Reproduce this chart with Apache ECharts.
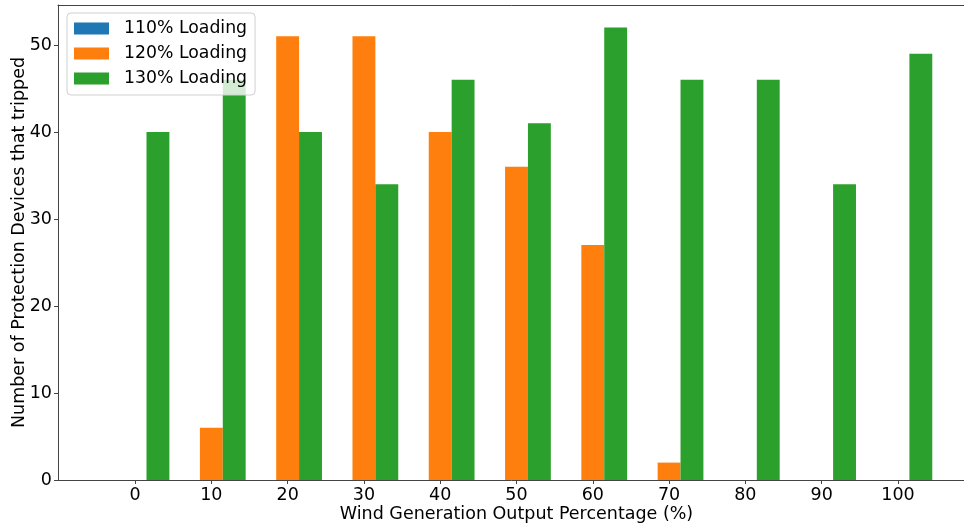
<!DOCTYPE html>
<html>
<head>
<meta charset="utf-8">
<script src="https://cdn.jsdelivr.net/npm/echarts@6/dist/echarts.min.js"></script>
<style>
  html, body { margin: 0; padding: 0; background: #fff; }
  #chart { width: 964px; height: 527px; }
</style>
</head>
<body>
<div id="chart"></div>
<script>
// Wind generation output levels (%), one group of bars per level
const windOutput = [0, 10, 20, 30, 40, 50, 60, 70, 80, 90, 100];
// Protection devices tripped at each loading level
const trips110 = [0, 0, 0, 0, 0, 0, 0, 0, 0, 0, 0];
const trips120 = [0, 6, 51, 51, 40, 36, 27, 2, 0, 0, 0];
const trips130 = [40, 46, 40, 34, 46, 41, 52, 46, 46, 34, 49];
const seriesNames = ['110% Loading', '120% Loading', '130% Loading'];
const xTicks = [0, 10, 20, 30, 40, 50, 60, 70, 80, 90, 100];
const yTicks = [0, 10, 20, 30, 40, 50];

const colors = ['#1f77b4', '#ff7f0e', '#2ca02c'];
const barWidth = 3;        // in x-axis units
const offsets = [-3, 0, 3]; // bar offsets within a group, x-axis units
const FONT = 'DejaVu Sans';
const AXIS_FONT = 17.5;
const X_MIN = -10.1, X_MAX = 110.1;

function pairs(values) {
  return windOutput.map((x, i) => [x, values[i]]);
}

function barRenderer(offset) {
  return function (params, api) {
    const x = api.value(0);
    const y = api.value(1);
    const top = api.coord([x + offset - barWidth / 2, y]);
    const base = api.coord([x + offset + barWidth / 2, 0]);
    return {
      type: 'rect',
      shape: { x: top[0], y: top[1], width: base[0] - top[0], height: base[1] - top[1] },
      style: { fill: api.visual('color') }
    };
  };
}

const allSeries = [trips110, trips120, trips130].map((vals, i) => ({
  name: seriesNames[i],
  type: 'custom',
  renderItem: barRenderer(offsets[i]),
  itemStyle: { color: colors[i] },
  encode: { x: 0, y: 1 },
  data: pairs(vals),
  xAxisIndex: 0,
  z: 2
}));

const chart = echarts.init(document.getElementById('chart'), null, { renderer: 'canvas' });
chart.setOption({
  animation: false,
  backgroundColor: '#ffffff',
  textStyle: { fontFamily: FONT },
  grid: {
    left: 58, top: 5, width: 917, height: 475,
    outerBoundsMode: 'none',
    containLabel: false,
    show: false
  },
  legend: {
    left: 67, top: 13,
    orient: 'vertical',
    data: seriesNames.map(n => ({ name: n, icon: 'rect' })),
    itemWidth: 35, itemHeight: 12, itemGap: 8,
    padding: [7, 8, 8, 7],
    backgroundColor: 'rgba(255,255,255,0.8)',
    borderColor: '#d0d0d0', borderWidth: 1, borderRadius: 4,
    textStyle: { fontFamily: FONT, fontSize: 17.3, color: '#000', padding: [0, 0, 0, 10] },
    selectedMode: false,
    z: 10
  },
  xAxis: [{
    type: 'value',
    min: X_MIN, max: X_MAX,
    name: 'Wind Generation Output Percentage (%)',
    nameLocation: 'middle', nameGap: 25, nameMoveOverlap: false,
    nameTextStyle: { fontFamily: FONT, fontSize: AXIS_FONT, color: '#000' },
    axisLine: { show: true, onZero: false, lineStyle: { color: '#444', width: 1 } },
    axisTick: { show: true, length: 4, lineStyle: { color: '#444' }, customValues: xTicks },
    axisLabel: { fontFamily: FONT, fontSize: AXIS_FONT, color: '#000', margin: 6, customValues: xTicks },
    splitLine: { show: false }
  }, {
    // top frame line
    type: 'value',
    position: 'top',
    min: X_MIN, max: X_MAX,
    axisLine: { show: true, onZero: false, lineStyle: { color: '#444', width: 1 } },
    axisTick: { show: false },
    axisLabel: { show: false },
    splitLine: { show: false }
  }],
  yAxis: {
    type: 'value',
    min: 0, max: 54.6,
    name: 'Number of Protection Devices that tripped',
    nameLocation: 'middle', nameGap: 30, nameMoveOverlap: false,
    nameTextStyle: { fontFamily: FONT, fontSize: AXIS_FONT, color: '#000' },
    axisLine: { show: true, onZero: false, lineStyle: { color: '#444', width: 1 } },
    axisTick: { show: true, length: 4, lineStyle: { color: '#444' }, customValues: yTicks },
    axisLabel: { fontFamily: FONT, fontSize: AXIS_FONT, color: '#000', margin: 6, customValues: yTicks },
    splitLine: { show: false }
  },
  series: allSeries
});
</script>
</body>
</html>
